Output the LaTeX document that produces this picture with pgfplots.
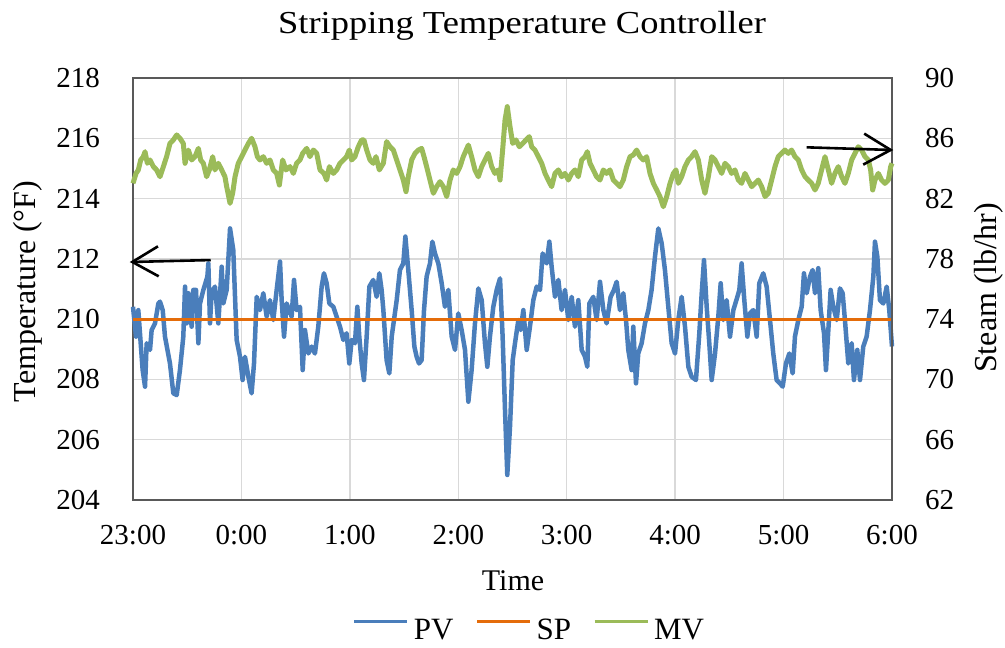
\documentclass[border=0pt]{standalone}
\usepackage{fontspec}
\setmainfont{Liberation Serif}
\usepackage{pgfplots}
\pgfplotsset{compat=1.18}
\usetikzlibrary{arrows.meta}
\newcommand\fs[1]{\fontsize{#1}{#1}\selectfont}
\definecolor{pv}{RGB}{74,126,187}
\definecolor{sp}{RGB}{228,108,10}
\definecolor{mv}{RGB}{155,187,89}
\definecolor{gridc}{RGB}{217,217,217}
\definecolor{framec}{RGB}{89,89,89}
\begin{document}
\begin{tikzpicture}
\useasboundingbox (-133pt,-148pt) rectangle (872pt,500pt);
\begin{axis}[
  at={(0pt,0pt)}, anchor=south west,
  scale only axis, width=759pt, height=422pt,
  xmin=0, xmax=7, ymin=204, ymax=218,
  xtick={0,...,7}, xticklabels={23:00,0:00,1:00,2:00,3:00,4:00,5:00,6:00},
  ytick={204,206,...,218},
  grid=major, major grid style={gridc, line width=1.5pt},
  axis line style={framec, line width=1.6pt},
  tick style={draw=none},
  /pgf/number format/assume math mode=true,
  ticklabel style={font=\fs{29}, inner sep=0pt},
  yticklabel style={anchor=east, xshift=-33pt},
  xticklabel style={anchor=north, yshift=-25pt},
  every axis title/.style={at={(axis description cs:0.5125,1.1066)}, anchor=base, inner sep=0pt, font=\fs{32}},
  title={\scalebox{1.14}[1]{Stripping Temperature Controller}},
  every axis x label/.style={at={(axis description cs:0.5007,-0.2133)}, anchor=base, inner sep=0pt, font=\fs{30}},
  xlabel={Time},
  every axis y label/.style={at={(axis description cs:-0.1291,0.4941)}, rotate=90, anchor=base, inner sep=0pt, font=\fs{32}},
  ylabel={Temperature (°F)},
  legend style={at={(0.5211,-0.3092)}, anchor=center, draw=none, fill=none, inner sep=0pt, outer sep=0pt,
    font=\fs{31}, nodes={inner sep=0pt},
    /tikz/every odd column/.append style={column sep=5pt},
    /tikz/every even column/.append style={column sep=22pt}},
  legend columns=-1,
  legend image code/.code={\draw[#1, line width=3pt] (0pt,9pt) -- (53pt,9pt);},
  clip=false
]
\addplot[pv, line width=4.5pt, line join=round] coordinates {
(0.000,210.41) (0.028,209.42) (0.049,210.30) (0.071,209.20) (0.089,208.31) (0.111,207.76) (0.126,209.20) (0.157,208.98)
(0.172,209.64) (0.203,209.86) (0.234,210.52) (0.249,210.58) (0.274,210.30) (0.295,209.42) (0.341,208.53) (0.372,207.54)
(0.403,207.48) (0.433,208.31) (0.464,209.42) (0.480,211.08) (0.495,209.86) (0.510,210.86) (0.541,209.75) (0.556,210.97)
(0.581,210.97) (0.603,209.20) (0.618,210.52) (0.649,210.97) (0.686,211.41) (0.695,211.85) (0.710,209.86) (0.725,210.86)
(0.756,211.08) (0.787,209.86) (0.818,211.74) (0.833,210.52) (0.864,210.97) (0.895,213.01) (0.925,212.29) (0.941,210.74)
(0.956,209.31) (0.987,208.75) (1.011,207.98) (1.033,208.75) (1.064,208.09) (1.094,207.54) (1.116,208.53) (1.141,210.74)
(1.171,210.30) (1.202,210.86) (1.233,210.08) (1.263,210.63) (1.294,209.97) (1.325,210.97) (1.356,211.91) (1.371,210.63)
(1.393,209.42) (1.417,210.52) (1.463,210.08) (1.485,211.30) (1.509,210.30) (1.540,210.41) (1.565,208.31) (1.586,209.64)
(1.617,208.86) (1.648,209.09) (1.678,208.86) (1.709,209.75) (1.740,211.08) (1.761,211.52) (1.786,211.19) (1.811,210.52)
(1.848,210.41) (1.878,210.08) (1.909,209.75) (1.940,209.31) (1.970,209.53) (1.995,208.53) (2.017,209.31) (2.047,209.20)
(2.069,210.41) (2.087,209.42) (2.109,208.53) (2.130,207.98) (2.155,209.42) (2.180,211.08) (2.216,211.30) (2.247,210.74)
(2.272,211.52) (2.293,210.97) (2.309,210.30) (2.339,208.64) (2.364,208.20) (2.386,209.42) (2.432,210.63) (2.462,211.63)
(2.493,211.85) (2.512,212.74) (2.539,211.63) (2.570,210.30) (2.595,209.09) (2.616,208.75) (2.638,208.53) (2.662,208.64)
(2.684,210.30) (2.708,211.41) (2.739,211.85) (2.761,212.57) (2.785,212.18) (2.816,211.85) (2.847,211.19) (2.877,210.41)
(2.908,210.97) (2.939,209.42) (2.970,208.98) (3.000,210.19) (3.031,209.64) (3.062,208.98) (3.093,207.26) (3.123,208.31)
(3.154,209.86) (3.185,211.02) (3.216,210.63) (3.246,209.20) (3.268,208.42) (3.292,209.42) (3.323,210.41) (3.354,210.97)
(3.385,211.35) (3.409,209.42) (3.431,206.98) (3.452,204.83) (3.477,206.43) (3.502,208.64) (3.523,209.20) (3.554,209.97)
(3.575,209.64) (3.600,210.30) (3.631,208.98) (3.661,209.75) (3.692,210.63) (3.723,211.08) (3.754,210.97) (3.778,212.18)
(3.815,211.85) (3.840,212.57) (3.861,211.74) (3.892,210.74) (3.923,211.30) (3.953,210.30) (3.984,210.97) (4.015,209.97)
(4.046,210.74) (4.076,209.75) (4.107,210.63) (4.138,208.98) (4.169,208.75) (4.190,208.42) (4.209,210.52) (4.245,210.74)
(4.276,209.97) (4.307,211.24) (4.338,210.30) (4.368,209.86) (4.405,210.74) (4.436,210.97) (4.461,211.24) (4.491,210.30)
(4.522,210.86) (4.547,209.97) (4.568,208.98) (4.599,208.31) (4.614,209.75) (4.639,207.87) (4.660,208.86) (4.691,209.20)
(4.722,209.86) (4.753,210.30) (4.783,210.97) (4.814,212.07) (4.845,213.01) (4.876,212.51) (4.906,211.63) (4.937,210.41)
(4.968,209.20) (4.999,208.86) (5.029,209.97) (5.060,210.74) (5.091,209.75) (5.122,208.42) (5.152,208.09) (5.192,207.98)
(5.223,209.53) (5.245,210.86) (5.266,211.96) (5.291,210.41) (5.315,209.20) (5.337,207.98) (5.368,208.86) (5.398,210.08)
(5.420,211.19) (5.444,209.97) (5.475,210.63) (5.506,209.42) (5.537,210.30) (5.574,210.74) (5.592,210.97) (5.613,211.85)
(5.638,210.63) (5.666,209.42) (5.690,210.19) (5.721,210.30) (5.752,209.42) (5.776,211.19) (5.813,211.52) (5.844,211.08)
(5.875,209.97) (5.905,208.86) (5.936,207.98) (5.967,207.87) (5.992,207.76) (6.022,208.53) (6.053,208.86) (6.084,208.20)
(6.105,209.42) (6.136,209.97) (6.167,210.41) (6.188,211.52) (6.213,210.86) (6.244,211.41) (6.268,211.63) (6.290,210.86)
(6.320,211.69) (6.342,210.30) (6.373,209.53) (6.391,208.31) (6.413,209.64) (6.434,210.97) (6.459,210.41) (6.490,209.97)
(6.520,211.02) (6.545,210.86) (6.566,209.97) (6.597,208.53) (6.628,209.20) (6.649,207.98) (6.680,208.98) (6.705,207.98)
(6.735,209.09) (6.766,209.42) (6.797,210.30) (6.828,211.41) (6.843,212.57) (6.865,212.07) (6.889,210.63) (6.920,210.52)
(6.951,211.08) (6.975,210.30) (7.000,209.09)
};
\addlegendentry{PV}
\addplot[sp, line width=3.2pt] coordinates {(0,210) (7,210)};
\addlegendentry{SP}
\addlegendimage{mv, line width=3pt}
\addlegendentry{MV}
\end{axis}
\begin{axis}[
  at={(0pt,0pt)}, anchor=south west,
  scale only axis, width=759pt, height=422pt,
  xmin=0, xmax=7, ymin=62, ymax=90,
  ytick={62,66,...,90},
  axis x line=none, axis y line*=right,
  axis line style={framec, line width=1.6pt},
  tick style={draw=none},
  /pgf/number format/assume math mode=true,
  ticklabel style={font=\fs{29}, inner sep=0pt},
  yticklabel style={anchor=west, xshift=33pt},
  every axis y label/.style={at={(axis description cs:1.1383,0.5024)}, rotate=90, anchor=base, inner sep=0pt, font=\fs{32}},
  ylabel={Steam (lb/hr)},
  clip=false
]
\addplot[mv, line width=5pt, line join=round] coordinates {
(0.000,83.01) (0.028,83.67) (0.049,83.90) (0.071,84.56) (0.095,84.78) (0.111,85.11) (0.132,84.34) (0.157,84.56)
(0.188,84.12) (0.218,83.90) (0.249,83.45) (0.280,84.12) (0.310,84.78) (0.341,85.66) (0.372,85.89) (0.403,86.22)
(0.433,86.00) (0.464,85.66) (0.480,84.34) (0.510,85.22) (0.541,84.56) (0.572,84.78) (0.603,85.33) (0.624,84.56)
(0.649,84.34) (0.679,83.45) (0.704,83.90) (0.735,84.78) (0.756,83.90) (0.787,84.34) (0.818,83.90) (0.848,83.45)
(0.864,82.79) (0.895,81.68) (0.919,82.35) (0.941,83.45) (0.971,84.34) (1.002,84.78) (1.033,85.22) (1.064,85.66)
(1.094,86.00) (1.125,85.44) (1.147,84.78) (1.171,84.56) (1.202,84.78) (1.233,84.34) (1.263,84.56) (1.294,83.90)
(1.325,83.67) (1.350,82.90) (1.380,84.56) (1.411,83.90) (1.448,84.12) (1.479,83.67) (1.509,84.34) (1.540,84.56)
(1.565,85.00) (1.602,85.33) (1.632,84.78) (1.663,85.22) (1.694,85.00) (1.725,83.90) (1.761,83.67) (1.786,83.23)
(1.811,84.12) (1.848,83.67) (1.878,83.90) (1.909,84.34) (1.940,84.56) (1.970,84.78) (1.995,85.22) (2.017,84.56)
(2.047,84.78) (2.078,85.44) (2.109,85.89) (2.130,85.89) (2.155,85.22) (2.186,84.56) (2.216,84.34) (2.241,84.78)
(2.272,83.90) (2.309,84.34) (2.339,85.78) (2.370,85.44) (2.401,85.22) (2.432,84.56) (2.462,83.90) (2.493,83.23)
(2.518,82.46) (2.539,83.45) (2.570,84.56) (2.601,85.00) (2.631,85.22) (2.662,85.33) (2.684,84.78) (2.708,84.12)
(2.739,83.23) (2.770,82.35) (2.801,82.79) (2.831,83.12) (2.862,82.79) (2.893,82.13) (2.924,83.23) (2.954,83.90)
(2.985,83.67) (3.016,84.12) (3.046,84.78) (3.093,85.55) (3.123,84.78) (3.154,83.90) (3.185,83.45) (3.216,84.12)
(3.246,84.56) (3.277,85.00) (3.308,84.12) (3.338,83.67) (3.369,83.90) (3.385,83.23) (3.409,85.22) (3.431,87.21)
(3.452,88.10) (3.477,86.77) (3.502,85.66) (3.532,85.89) (3.563,85.44) (3.594,85.66) (3.625,85.89) (3.655,86.11)
(3.677,85.44) (3.707,85.22) (3.738,84.78) (3.769,84.34) (3.800,83.67) (3.830,83.23) (3.861,82.79) (3.892,83.67)
(3.923,83.90) (3.953,83.45) (3.984,83.67) (4.015,83.23) (4.046,83.67) (4.076,83.90) (4.107,83.45) (4.138,84.56)
(4.169,84.78) (4.190,85.11) (4.215,84.34) (4.245,83.90) (4.276,83.45) (4.307,83.23) (4.338,83.90) (4.368,83.67)
(4.399,83.90) (4.430,83.23) (4.461,83.01) (4.491,82.79) (4.522,83.23) (4.553,84.12) (4.584,84.78) (4.614,84.89)
(4.645,85.22) (4.676,84.78) (4.707,84.56) (4.737,84.78) (4.768,83.67) (4.799,83.01) (4.830,82.57) (4.860,82.13)
(4.891,81.46) (4.922,82.13) (4.953,83.01) (4.984,83.67) (5.008,83.90) (5.029,83.01) (5.060,83.45) (5.091,84.12)
(5.122,84.56) (5.152,84.78) (5.183,85.11) (5.214,84.56) (5.245,83.23) (5.275,82.35) (5.306,83.45) (5.337,84.78)
(5.368,84.56) (5.398,84.12) (5.429,83.67) (5.460,84.34) (5.490,84.12) (5.521,83.67) (5.552,83.90) (5.583,83.23)
(5.613,83.01) (5.644,83.67) (5.675,83.23) (5.706,82.79) (5.737,83.01) (5.767,83.23) (5.798,82.79) (5.829,82.13)
(5.859,82.35) (5.890,83.23) (5.921,84.12) (5.951,84.78) (5.982,85.00) (6.013,85.22) (6.044,85.00) (6.074,85.22)
(6.105,84.78) (6.136,84.56) (6.167,83.90) (6.198,83.45) (6.228,83.23) (6.259,83.01) (6.290,82.57) (6.320,83.01)
(6.351,83.90) (6.382,84.78) (6.413,83.90) (6.443,83.01) (6.474,83.67) (6.505,84.12) (6.536,83.45) (6.566,83.01)
(6.597,83.67) (6.628,84.56) (6.658,85.00) (6.689,85.44) (6.720,85.22) (6.751,84.78) (6.782,84.56) (6.803,83.90)
(6.822,82.57) (6.843,83.23) (6.874,83.67) (6.904,83.23) (6.935,83.01) (6.966,83.23) (6.988,84.12) (7.000,84.34)
};
\draw[black, line width=2.6pt, -{Straight Barb[length=26pt,width=30pt,line width=2.6pt]}] (axis cs:0.717,77.92) -- (axis cs:-0.03,77.79);
\draw[black, line width=2.6pt, -{Straight Barb[length=27pt,width=31pt,line width=2.6pt]}] (axis cs:6.213,85.40) -- (axis cs:7.012,85.22);
\end{axis}
\end{tikzpicture}
\end{document}
